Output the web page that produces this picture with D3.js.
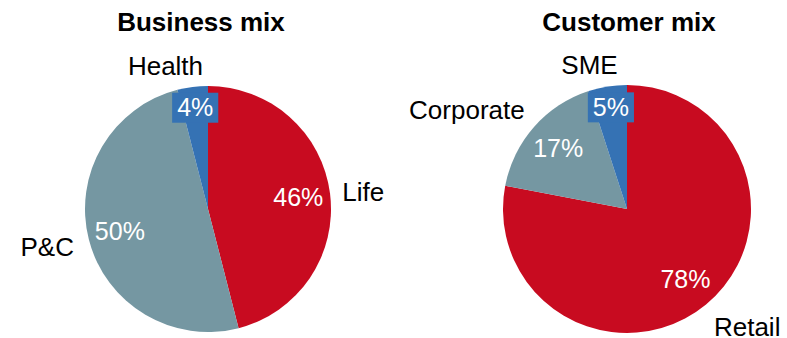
<!DOCTYPE html>
<html>
<head>
<meta charset="utf-8">
<script src="https://cdn.jsdelivr.net/npm/d3@7"></script>
<style>
  html, body { margin: 0; padding: 0; background: #ffffff; }
  svg { display: block; }
  text { font-family: "Liberation Sans", Arial, Helvetica, sans-serif; }
</style>
</head>
<body>
<div id="chart"></div>
<script>
// Chart data
const titles = ["Business mix", "Customer mix"];
const businessCategories = ["Life", "P&C", "Health"];
const businessValues = [46, 50, 4];
const customerCategories = ["Retail", "Corporate", "SME"];
const customerValues = [78, 17, 5];

// Slice colours, in slice order
const sliceColors = ["#c80b20", "#7597a2", "#3572b4"];

const width = 787, height = 338;

const svg = d3.select("#chart").append("svg")
  .attr("width", width)
  .attr("height", height);

// Layout of the two pies
const panels = [
  { title: titles[0], cats: businessCategories, vals: businessValues,
    cx: 208, cy: 209, r: 123, titleX: 201 },
  { title: titles[1], cats: customerCategories, vals: customerValues,
    cx: 627, cy: 209, r: 124, titleX: 629 }
];

// Small hand adjustments for category labels near the top of a pie
const outerNudge = { "Health": [12, 0], "SME": [12, 0], "P&C": [-3, 4], "Retail": [0, -1] };

const pctFont = 25;
const catFont = 26;
const pie = d3.pie().sort(null).value(d => d);

panels.forEach(p => {
  const g = svg.append("g").attr("transform", `translate(${p.cx},${p.cy})`);
  const color = d3.scaleOrdinal().domain(p.cats).range(sliceColors);
  const arcs = pie(p.vals);
  const arc = d3.arc().innerRadius(0).outerRadius(p.r);

  // title
  svg.append("text")
    .attr("x", p.titleX)
    .attr("y", 31)
    .attr("text-anchor", "middle")
    .style("font-size", "26px")
    .style("font-weight", "bold")
    .attr("fill", "#000")
    .text(p.title);

  // slices
  g.selectAll("path.slice")
    .data(arcs)
    .join("path")
    .attr("class", "slice")
    .attr("d", arc)
    .attr("fill", (d, i) => color(p.cats[i]));

  // percentage labels inside the slices; small slices get a filled box
  arcs.forEach((d, i) => {
    const mid = (d.startAngle + d.endAngle) / 2;
    const small = d.value < 10;
    const lr = small ? p.r * 0.83 : p.r * 0.74;
    const x = Math.sin(mid) * lr;
    const y = -Math.cos(mid) * lr;
    const lg = g.append("g");
    const t = lg.append("text")
      .attr("x", x)
      .attr("y", y)
      .attr("dy", "0.35em")
      .attr("text-anchor", "middle")
      .style("font-size", pctFont + "px")
      .attr("fill", "#ffffff")
      .text(d.value + "%");
    if (small) {
      const bb = t.node().getBBox();
      lg.insert("rect", "text")
        .attr("x", bb.x - 5)
        .attr("y", y - 15)
        .attr("width", bb.width + 10)
        .attr("height", 30)
        .attr("fill", color(p.cats[i]));
    }
  });

  // category labels outside the pie
  arcs.forEach((d, i) => {
    const name = p.cats[i];
    const mid = (d.startAngle + d.endAngle) / 2;
    const s = Math.sin(mid), c = Math.cos(mid);
    const orr = p.r * 1.1;
    const x = s * orr;
    const y = -c * orr;
    let anchor = "middle";
    if (s > 0.1) anchor = "start";
    else if (s < -0.1) anchor = "end";
    let baseline;
    if (c > 0.3) baseline = y;                 // label sits above the point
    else if (c < -0.3) baseline = y + 22.6;    // label hangs below the point
    else baseline = y + 9;                     // vertically centred
    const n = outerNudge[name] || [0, 0];
    g.append("text")
      .attr("x", x + n[0])
      .attr("y", baseline + n[1])
      .attr("text-anchor", anchor)
      .style("font-size", catFont + "px")
      .attr("fill", "#000")
      .text(name);
  });
});
</script>
</body>
</html>
